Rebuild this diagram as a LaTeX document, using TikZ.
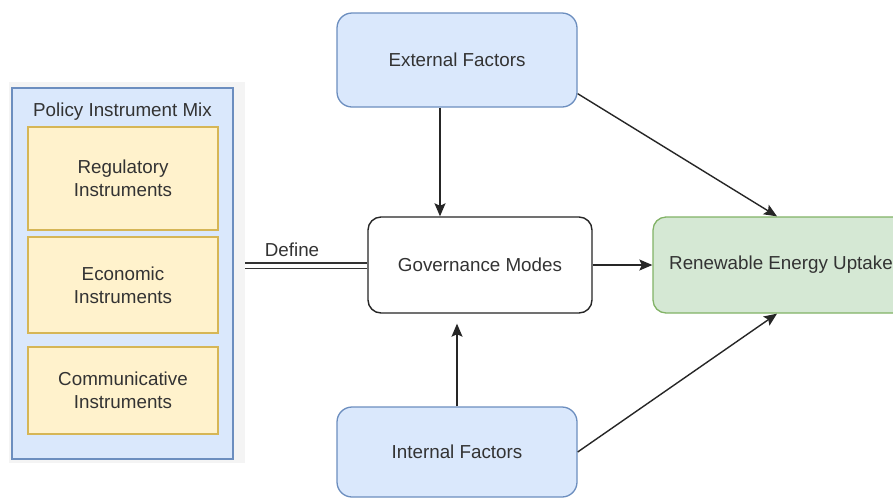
\documentclass[tikz,border=0pt]{standalone}
\usepackage{fontspec}
\setmainfont{Liberation Sans}
\usetikzlibrary{arrows.meta,calc}
\definecolor{bfill}{HTML}{DAE8FC}
\definecolor{bline}{HTML}{6C8EBF}
\definecolor{yfill}{HTML}{FFF2CC}
\definecolor{yline}{HTML}{D6B656}
\definecolor{gfill}{HTML}{D5E8D4}
\definecolor{gline}{HTML}{82B366}
\definecolor{txt}{HTML}{333333}
\definecolor{panelshadecol}{HTML}{F4F4F4}
\tikzset{
  lbl/.style={font=\fontsize{18.8}{23}\selectfont, text=txt, align=center},
  bluebox/.style={lbl, draw=bline, fill=bfill, line width=1.3pt, rounded corners=15pt, minimum width=240pt, minimum height=94pt, inner sep=0pt},
  yelbox/.style={lbl, draw=yline, fill=yfill, line width=1.3pt, minimum width=190pt, inner sep=0pt},
  govbox/.style={lbl, draw=black!85, fill=white, line width=1.4pt, rounded corners=13pt, minimum width=224pt, minimum height=96pt, inner sep=0pt},
  greenbox/.style={lbl, draw=gline, fill=gfill, line width=1.3pt, rounded corners=13pt, minimum width=256pt, minimum height=96pt, inner sep=0pt},
  arr/.style={draw=black!85, line width=1.4pt, -{Stealth[length=13pt,width=11pt,inset=2.5pt]}},
}
\begin{document}
\begin{tikzpicture}[x=1pt,y=-1pt]
\useasboundingbox (0,0) rectangle (893,499);
\clip (0,0) rectangle (893,499);
\fill[white] (0,0) rectangle (893,499);
% left panel
\fill[panelshadecol] (9,82) rectangle (245,463);
\node[draw=bline, fill=bfill, line width=1.3pt, minimum width=221pt, minimum height=371pt, inner sep=0pt] (panel) at (122.5,273.5) {};
\node[lbl] (title) at (122.5,112) {Policy Instrument Mix};
\node[yelbox, minimum height=103pt] (reg) at (123,178.5) {Regulatory\\Instruments};
\node[yelbox, minimum height=96pt] (eco) at (123,285) {Economic\\Instruments};
\node[yelbox, minimum height=87pt] (com) at (123,390.5) {Communicative\\Instruments};
% main nodes
\node[bluebox] (ext) at (457,60) {External Factors};
\node[bluebox, minimum height=90pt] (intf) at (457,452) {Internal Factors};
\node[govbox] (gov) at (480,265) {Governance Modes};
\node[greenbox] (ren) at (781,265) {Renewable Energy Uptake};
% connectors
\coordinate (dl) at (245,265.5);
\draw[draw=black!80, line width=1.3pt, double=white, double distance=4pt] (dl) -- (gov.west |- dl);
\node[lbl] (deflbl) at (292,250) {Define};
\draw[arr] ([xshift=-17pt]ext.south) -- ([xshift=-40pt]gov.north);
\draw[arr] (intf.north) -- ([xshift=-23pt,yshift=-10pt]gov.south);
\draw[arr] ([yshift=14pt]ext.south east) -- ([xshift=-4pt]ren.north);
\draw[arr] (intf.east) -- ([xshift=-4pt]ren.south);
\draw[arr] (gov.east) -- (ren.west);
\end{tikzpicture}
\end{document}
